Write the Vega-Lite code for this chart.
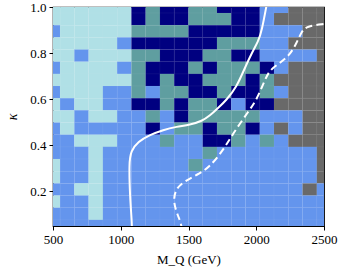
{
"$schema": "https://vega.github.io/schema/vega-lite/v6.json",
"width": 271, "height": 219,
"autosize": {"type": "none"},
"padding": {"left": 53, "top": 7, "right": 17, "bottom": 50},
"background": "white",
"config": {"view": {"stroke": "black", "strokeWidth": 1.2}},
"layer": [
{"data": {"values": [
{"m":500,"k":1,"c":"L"},{"m":605.3,"k":1,"c":"L"},{"m":710.5,"k":1,"c":"L"},{"m":815.8,"k":1,"c":"L"},{"m":921.1,"k":1,"c":"L"},{"m":1026.3,"k":1,"c":"L"},{"m":1131.6,"k":1,"c":"N"},{"m":1236.8,"k":1,"c":"T"},{"m":1342.1,"k":1,"c":"N"},{"m":1447.4,"k":1,"c":"N"},{"m":1552.6,"k":1,"c":"T"},{"m":1657.9,"k":1,"c":"T"},{"m":1763.2,"k":1,"c":"N"},{"m":1868.4,"k":1,"c":"N"},{"m":1973.7,"k":1,"c":"N"},{"m":2078.9,"k":1,"c":"B"},{"m":2184.2,"k":1,"c":"B"},{"m":2289.5,"k":1,"c":"G"},{"m":2394.7,"k":1,"c":"G"},{"m":2500,"k":1,"c":"G"},
{"m":500,"k":0.9472,"c":"L"},{"m":605.3,"k":0.9472,"c":"L"},{"m":710.5,"k":0.9472,"c":"L"},{"m":815.8,"k":0.9472,"c":"L"},{"m":921.1,"k":0.9472,"c":"L"},{"m":1026.3,"k":0.9472,"c":"L"},{"m":1131.6,"k":0.9472,"c":"N"},{"m":1236.8,"k":0.9472,"c":"T"},{"m":1342.1,"k":0.9472,"c":"N"},{"m":1447.4,"k":0.9472,"c":"N"},{"m":1552.6,"k":0.9472,"c":"T"},{"m":1657.9,"k":0.9472,"c":"T"},{"m":1763.2,"k":0.9472,"c":"T"},{"m":1868.4,"k":0.9472,"c":"N"},{"m":1973.7,"k":0.9472,"c":"N"},{"m":2078.9,"k":0.9472,"c":"B"},{"m":2184.2,"k":0.9472,"c":"G"},{"m":2289.5,"k":0.9472,"c":"G"},{"m":2394.7,"k":0.9472,"c":"G"},{"m":2500,"k":0.9472,"c":"G"},
{"m":500,"k":0.8944,"c":"B"},{"m":605.3,"k":0.8944,"c":"L"},{"m":710.5,"k":0.8944,"c":"L"},{"m":815.8,"k":0.8944,"c":"L"},{"m":921.1,"k":0.8944,"c":"L"},{"m":1026.3,"k":0.8944,"c":"L"},{"m":1131.6,"k":0.8944,"c":"T"},{"m":1236.8,"k":0.8944,"c":"T"},{"m":1342.1,"k":0.8944,"c":"T"},{"m":1447.4,"k":0.8944,"c":"T"},{"m":1552.6,"k":0.8944,"c":"N"},{"m":1657.9,"k":0.8944,"c":"N"},{"m":1763.2,"k":0.8944,"c":"N"},{"m":1868.4,"k":0.8944,"c":"N"},{"m":1973.7,"k":0.8944,"c":"N"},{"m":2078.9,"k":0.8944,"c":"B"},{"m":2184.2,"k":0.8944,"c":"B"},{"m":2289.5,"k":0.8944,"c":"B"},{"m":2394.7,"k":0.8944,"c":"G"},{"m":2500,"k":0.8944,"c":"G"},
{"m":500,"k":0.8417,"c":"L"},{"m":605.3,"k":0.8417,"c":"L"},{"m":710.5,"k":0.8417,"c":"L"},{"m":815.8,"k":0.8417,"c":"L"},{"m":921.1,"k":0.8417,"c":"L"},{"m":1026.3,"k":0.8417,"c":"B"},{"m":1131.6,"k":0.8417,"c":"N"},{"m":1236.8,"k":0.8417,"c":"N"},{"m":1342.1,"k":0.8417,"c":"N"},{"m":1447.4,"k":0.8417,"c":"N"},{"m":1552.6,"k":0.8417,"c":"N"},{"m":1657.9,"k":0.8417,"c":"N"},{"m":1763.2,"k":0.8417,"c":"T"},{"m":1868.4,"k":0.8417,"c":"T"},{"m":1973.7,"k":0.8417,"c":"T"},{"m":2078.9,"k":0.8417,"c":"B"},{"m":2184.2,"k":0.8417,"c":"B"},{"m":2289.5,"k":0.8417,"c":"G"},{"m":2394.7,"k":0.8417,"c":"G"},{"m":2500,"k":0.8417,"c":"G"},
{"m":500,"k":0.7889,"c":"L"},{"m":605.3,"k":0.7889,"c":"L"},{"m":710.5,"k":0.7889,"c":"B"},{"m":815.8,"k":0.7889,"c":"L"},{"m":921.1,"k":0.7889,"c":"L"},{"m":1026.3,"k":0.7889,"c":"L"},{"m":1131.6,"k":0.7889,"c":"T"},{"m":1236.8,"k":0.7889,"c":"T"},{"m":1342.1,"k":0.7889,"c":"N"},{"m":1447.4,"k":0.7889,"c":"N"},{"m":1552.6,"k":0.7889,"c":"N"},{"m":1657.9,"k":0.7889,"c":"T"},{"m":1763.2,"k":0.7889,"c":"T"},{"m":1868.4,"k":0.7889,"c":"N"},{"m":1973.7,"k":0.7889,"c":"N"},{"m":2078.9,"k":0.7889,"c":"B"},{"m":2184.2,"k":0.7889,"c":"B"},{"m":2289.5,"k":0.7889,"c":"B"},{"m":2394.7,"k":0.7889,"c":"B"},{"m":2500,"k":0.7889,"c":"G"},
{"m":500,"k":0.7361,"c":"B"},{"m":605.3,"k":0.7361,"c":"L"},{"m":710.5,"k":0.7361,"c":"L"},{"m":815.8,"k":0.7361,"c":"L"},{"m":921.1,"k":0.7361,"c":"L"},{"m":1026.3,"k":0.7361,"c":"B"},{"m":1131.6,"k":0.7361,"c":"T"},{"m":1236.8,"k":0.7361,"c":"N"},{"m":1342.1,"k":0.7361,"c":"N"},{"m":1447.4,"k":0.7361,"c":"N"},{"m":1552.6,"k":0.7361,"c":"T"},{"m":1657.9,"k":0.7361,"c":"N"},{"m":1763.2,"k":0.7361,"c":"T"},{"m":1868.4,"k":0.7361,"c":"T"},{"m":1973.7,"k":0.7361,"c":"T"},{"m":2078.9,"k":0.7361,"c":"N"},{"m":2184.2,"k":0.7361,"c":"B"},{"m":2289.5,"k":0.7361,"c":"G"},{"m":2394.7,"k":0.7361,"c":"G"},{"m":2500,"k":0.7361,"c":"G"},
{"m":500,"k":0.6833,"c":"L"},{"m":605.3,"k":0.6833,"c":"L"},{"m":710.5,"k":0.6833,"c":"L"},{"m":815.8,"k":0.6833,"c":"L"},{"m":921.1,"k":0.6833,"c":"L"},{"m":1026.3,"k":0.6833,"c":"L"},{"m":1131.6,"k":0.6833,"c":"T"},{"m":1236.8,"k":0.6833,"c":"N"},{"m":1342.1,"k":0.6833,"c":"T"},{"m":1447.4,"k":0.6833,"c":"N"},{"m":1552.6,"k":0.6833,"c":"N"},{"m":1657.9,"k":0.6833,"c":"T"},{"m":1763.2,"k":0.6833,"c":"T"},{"m":1868.4,"k":0.6833,"c":"T"},{"m":1973.7,"k":0.6833,"c":"N"},{"m":2078.9,"k":0.6833,"c":"T"},{"m":2184.2,"k":0.6833,"c":"G"},{"m":2289.5,"k":0.6833,"c":"G"},{"m":2394.7,"k":0.6833,"c":"G"},{"m":2500,"k":0.6833,"c":"G"},
{"m":500,"k":0.6306,"c":"B"},{"m":605.3,"k":0.6306,"c":"L"},{"m":710.5,"k":0.6306,"c":"L"},{"m":815.8,"k":0.6306,"c":"L"},{"m":921.1,"k":0.6306,"c":"B"},{"m":1026.3,"k":0.6306,"c":"B"},{"m":1131.6,"k":0.6306,"c":"T"},{"m":1236.8,"k":0.6306,"c":"B"},{"m":1342.1,"k":0.6306,"c":"T"},{"m":1447.4,"k":0.6306,"c":"T"},{"m":1552.6,"k":0.6306,"c":"N"},{"m":1657.9,"k":0.6306,"c":"N"},{"m":1763.2,"k":0.6306,"c":"T"},{"m":1868.4,"k":0.6306,"c":"N"},{"m":1973.7,"k":0.6306,"c":"N"},{"m":2078.9,"k":0.6306,"c":"T"},{"m":2184.2,"k":0.6306,"c":"B"},{"m":2289.5,"k":0.6306,"c":"G"},{"m":2394.7,"k":0.6306,"c":"G"},{"m":2500,"k":0.6306,"c":"G"},
{"m":500,"k":0.5778,"c":"L"},{"m":605.3,"k":0.5778,"c":"B"},{"m":710.5,"k":0.5778,"c":"L"},{"m":815.8,"k":0.5778,"c":"L"},{"m":921.1,"k":0.5778,"c":"B"},{"m":1026.3,"k":0.5778,"c":"B"},{"m":1131.6,"k":0.5778,"c":"N"},{"m":1236.8,"k":0.5778,"c":"N"},{"m":1342.1,"k":0.5778,"c":"T"},{"m":1447.4,"k":0.5778,"c":"N"},{"m":1552.6,"k":0.5778,"c":"T"},{"m":1657.9,"k":0.5778,"c":"T"},{"m":1763.2,"k":0.5778,"c":"N"},{"m":1868.4,"k":0.5778,"c":"B"},{"m":1973.7,"k":0.5778,"c":"N"},{"m":2078.9,"k":0.5778,"c":"N"},{"m":2184.2,"k":0.5778,"c":"G"},{"m":2289.5,"k":0.5778,"c":"G"},{"m":2394.7,"k":0.5778,"c":"G"},{"m":2500,"k":0.5778,"c":"G"},
{"m":500,"k":0.525,"c":"L"},{"m":605.3,"k":0.525,"c":"L"},{"m":710.5,"k":0.525,"c":"B"},{"m":815.8,"k":0.525,"c":"L"},{"m":921.1,"k":0.525,"c":"L"},{"m":1026.3,"k":0.525,"c":"B"},{"m":1131.6,"k":0.525,"c":"B"},{"m":1236.8,"k":0.525,"c":"T"},{"m":1342.1,"k":0.525,"c":"B"},{"m":1447.4,"k":0.525,"c":"N"},{"m":1552.6,"k":0.525,"c":"T"},{"m":1657.9,"k":0.525,"c":"T"},{"m":1763.2,"k":0.525,"c":"T"},{"m":1868.4,"k":0.525,"c":"T"},{"m":1973.7,"k":0.525,"c":"T"},{"m":2078.9,"k":0.525,"c":"B"},{"m":2184.2,"k":0.525,"c":"B"},{"m":2289.5,"k":0.525,"c":"B"},{"m":2394.7,"k":0.525,"c":"G"},{"m":2500,"k":0.525,"c":"G"},
{"m":500,"k":0.4722,"c":"B"},{"m":605.3,"k":0.4722,"c":"L"},{"m":710.5,"k":0.4722,"c":"B"},{"m":815.8,"k":0.4722,"c":"B"},{"m":921.1,"k":0.4722,"c":"B"},{"m":1026.3,"k":0.4722,"c":"B"},{"m":1131.6,"k":0.4722,"c":"B"},{"m":1236.8,"k":0.4722,"c":"N"},{"m":1342.1,"k":0.4722,"c":"B"},{"m":1447.4,"k":0.4722,"c":"T"},{"m":1552.6,"k":0.4722,"c":"T"},{"m":1657.9,"k":0.4722,"c":"N"},{"m":1763.2,"k":0.4722,"c":"T"},{"m":1868.4,"k":0.4722,"c":"T"},{"m":1973.7,"k":0.4722,"c":"N"},{"m":2078.9,"k":0.4722,"c":"B"},{"m":2184.2,"k":0.4722,"c":"G"},{"m":2289.5,"k":0.4722,"c":"B"},{"m":2394.7,"k":0.4722,"c":"G"},{"m":2500,"k":0.4722,"c":"G"},
{"m":500,"k":0.4194,"c":"B"},{"m":605.3,"k":0.4194,"c":"B"},{"m":710.5,"k":0.4194,"c":"L"},{"m":815.8,"k":0.4194,"c":"L"},{"m":921.1,"k":0.4194,"c":"L"},{"m":1026.3,"k":0.4194,"c":"B"},{"m":1131.6,"k":0.4194,"c":"B"},{"m":1236.8,"k":0.4194,"c":"B"},{"m":1342.1,"k":0.4194,"c":"T"},{"m":1447.4,"k":0.4194,"c":"B"},{"m":1552.6,"k":0.4194,"c":"B"},{"m":1657.9,"k":0.4194,"c":"N"},{"m":1763.2,"k":0.4194,"c":"N"},{"m":1868.4,"k":0.4194,"c":"T"},{"m":1973.7,"k":0.4194,"c":"B"},{"m":2078.9,"k":0.4194,"c":"T"},{"m":2184.2,"k":0.4194,"c":"B"},{"m":2289.5,"k":0.4194,"c":"G"},{"m":2394.7,"k":0.4194,"c":"G"},{"m":2500,"k":0.4194,"c":"G"},
{"m":500,"k":0.3667,"c":"B"},{"m":605.3,"k":0.3667,"c":"B"},{"m":710.5,"k":0.3667,"c":"B"},{"m":815.8,"k":0.3667,"c":"L"},{"m":921.1,"k":0.3667,"c":"B"},{"m":1026.3,"k":0.3667,"c":"B"},{"m":1131.6,"k":0.3667,"c":"B"},{"m":1236.8,"k":0.3667,"c":"B"},{"m":1342.1,"k":0.3667,"c":"B"},{"m":1447.4,"k":0.3667,"c":"B"},{"m":1552.6,"k":0.3667,"c":"B"},{"m":1657.9,"k":0.3667,"c":"T"},{"m":1763.2,"k":0.3667,"c":"B"},{"m":1868.4,"k":0.3667,"c":"B"},{"m":1973.7,"k":0.3667,"c":"B"},{"m":2078.9,"k":0.3667,"c":"B"},{"m":2184.2,"k":0.3667,"c":"B"},{"m":2289.5,"k":0.3667,"c":"B"},{"m":2394.7,"k":0.3667,"c":"B"},{"m":2500,"k":0.3667,"c":"G"},
{"m":500,"k":0.3139,"c":"L"},{"m":605.3,"k":0.3139,"c":"B"},{"m":710.5,"k":0.3139,"c":"B"},{"m":815.8,"k":0.3139,"c":"L"},{"m":921.1,"k":0.3139,"c":"B"},{"m":1026.3,"k":0.3139,"c":"B"},{"m":1131.6,"k":0.3139,"c":"B"},{"m":1236.8,"k":0.3139,"c":"B"},{"m":1342.1,"k":0.3139,"c":"B"},{"m":1447.4,"k":0.3139,"c":"B"},{"m":1552.6,"k":0.3139,"c":"T"},{"m":1657.9,"k":0.3139,"c":"B"},{"m":1763.2,"k":0.3139,"c":"B"},{"m":1868.4,"k":0.3139,"c":"B"},{"m":1973.7,"k":0.3139,"c":"B"},{"m":2078.9,"k":0.3139,"c":"B"},{"m":2184.2,"k":0.3139,"c":"B"},{"m":2289.5,"k":0.3139,"c":"B"},{"m":2394.7,"k":0.3139,"c":"B"},{"m":2500,"k":0.3139,"c":"G"},
{"m":500,"k":0.2611,"c":"L"},{"m":605.3,"k":0.2611,"c":"B"},{"m":710.5,"k":0.2611,"c":"B"},{"m":815.8,"k":0.2611,"c":"L"},{"m":921.1,"k":0.2611,"c":"B"},{"m":1026.3,"k":0.2611,"c":"B"},{"m":1131.6,"k":0.2611,"c":"B"},{"m":1236.8,"k":0.2611,"c":"B"},{"m":1342.1,"k":0.2611,"c":"B"},{"m":1447.4,"k":0.2611,"c":"B"},{"m":1552.6,"k":0.2611,"c":"B"},{"m":1657.9,"k":0.2611,"c":"B"},{"m":1763.2,"k":0.2611,"c":"B"},{"m":1868.4,"k":0.2611,"c":"B"},{"m":1973.7,"k":0.2611,"c":"B"},{"m":2078.9,"k":0.2611,"c":"B"},{"m":2184.2,"k":0.2611,"c":"B"},{"m":2289.5,"k":0.2611,"c":"B"},{"m":2394.7,"k":0.2611,"c":"B"},{"m":2500,"k":0.2611,"c":"G"},
{"m":500,"k":0.2083,"c":"B"},{"m":605.3,"k":0.2083,"c":"B"},{"m":710.5,"k":0.2083,"c":"L"},{"m":815.8,"k":0.2083,"c":"L"},{"m":921.1,"k":0.2083,"c":"B"},{"m":1026.3,"k":0.2083,"c":"B"},{"m":1131.6,"k":0.2083,"c":"B"},{"m":1236.8,"k":0.2083,"c":"B"},{"m":1342.1,"k":0.2083,"c":"B"},{"m":1447.4,"k":0.2083,"c":"B"},{"m":1552.6,"k":0.2083,"c":"B"},{"m":1657.9,"k":0.2083,"c":"B"},{"m":1763.2,"k":0.2083,"c":"B"},{"m":1868.4,"k":0.2083,"c":"B"},{"m":1973.7,"k":0.2083,"c":"B"},{"m":2078.9,"k":0.2083,"c":"B"},{"m":2184.2,"k":0.2083,"c":"B"},{"m":2289.5,"k":0.2083,"c":"B"},{"m":2394.7,"k":0.2083,"c":"G"},{"m":2500,"k":0.2083,"c":"B"},
{"m":500,"k":0.1556,"c":"L"},{"m":605.3,"k":0.1556,"c":"B"},{"m":710.5,"k":0.1556,"c":"B"},{"m":815.8,"k":0.1556,"c":"L"},{"m":921.1,"k":0.1556,"c":"B"},{"m":1026.3,"k":0.1556,"c":"B"},{"m":1131.6,"k":0.1556,"c":"B"},{"m":1236.8,"k":0.1556,"c":"B"},{"m":1342.1,"k":0.1556,"c":"B"},{"m":1447.4,"k":0.1556,"c":"B"},{"m":1552.6,"k":0.1556,"c":"B"},{"m":1657.9,"k":0.1556,"c":"B"},{"m":1763.2,"k":0.1556,"c":"B"},{"m":1868.4,"k":0.1556,"c":"B"},{"m":1973.7,"k":0.1556,"c":"B"},{"m":2078.9,"k":0.1556,"c":"B"},{"m":2184.2,"k":0.1556,"c":"B"},{"m":2289.5,"k":0.1556,"c":"B"},{"m":2394.7,"k":0.1556,"c":"B"},{"m":2500,"k":0.1556,"c":"B"},
{"m":500,"k":0.1028,"c":"B"},{"m":605.3,"k":0.1028,"c":"B"},{"m":710.5,"k":0.1028,"c":"B"},{"m":815.8,"k":0.1028,"c":"L"},{"m":921.1,"k":0.1028,"c":"B"},{"m":1026.3,"k":0.1028,"c":"B"},{"m":1131.6,"k":0.1028,"c":"B"},{"m":1236.8,"k":0.1028,"c":"B"},{"m":1342.1,"k":0.1028,"c":"B"},{"m":1447.4,"k":0.1028,"c":"B"},{"m":1552.6,"k":0.1028,"c":"B"},{"m":1657.9,"k":0.1028,"c":"B"},{"m":1763.2,"k":0.1028,"c":"B"},{"m":1868.4,"k":0.1028,"c":"B"},{"m":1973.7,"k":0.1028,"c":"B"},{"m":2078.9,"k":0.1028,"c":"B"},{"m":2184.2,"k":0.1028,"c":"B"},{"m":2289.5,"k":0.1028,"c":"B"},{"m":2394.7,"k":0.1028,"c":"B"},{"m":2500,"k":0.1028,"c":"B"},
{"m":500,"k":0.05,"c":"B"},{"m":605.3,"k":0.05,"c":"B"},{"m":710.5,"k":0.05,"c":"B"},{"m":815.8,"k":0.05,"c":"B"},{"m":921.1,"k":0.05,"c":"B"},{"m":1026.3,"k":0.05,"c":"B"},{"m":1131.6,"k":0.05,"c":"B"},{"m":1236.8,"k":0.05,"c":"B"},{"m":1342.1,"k":0.05,"c":"B"},{"m":1447.4,"k":0.05,"c":"B"},{"m":1552.6,"k":0.05,"c":"B"},{"m":1657.9,"k":0.05,"c":"B"},{"m":1763.2,"k":0.05,"c":"B"},{"m":1868.4,"k":0.05,"c":"B"},{"m":1973.7,"k":0.05,"c":"B"},{"m":2078.9,"k":0.05,"c":"B"},{"m":2184.2,"k":0.05,"c":"B"},{"m":2289.5,"k":0.05,"c":"B"},{"m":2394.7,"k":0.05,"c":"B"},{"m":2500,"k":0.05,"c":"B"}
]},
"mark": {"type": "rect", "width": 14.4, "height": 12.3, "clip": true, "stroke": "white", "strokeWidth": 0.4, "strokeOpacity": 0.1},
"encoding": {
 "x": {"field": "m", "type": "quantitative", "scale": {"domain": [500, 2500], "nice": false, "zero": false},
  "axis": {"values": [500, 1000, 1500, 2000, 2500], "format": "d", "grid": false, "title": "M_Q (GeV)", "labelFont": "Liberation Serif", "labelFontSize": 13, "labelColor": "black", "labelFlush": false, "labelOverlap": false, "tickColor": "black", "tickSize": 4, "domainColor": "black", "titleFont": "Liberation Serif", "titleFontSize": 13, "titleFontWeight": "normal", "titleColor": "black", "titlePadding": 7, "labelPadding": 3}},
 "y": {"field": "k", "type": "quantitative", "scale": {"domain": [0.05, 1.0], "nice": false, "zero": false},
  "axis": {"values": [0.2, 0.4, 0.6, 0.8, 1.0], "format": ".1f", "grid": false, "title": "κ", "labelFont": "Liberation Serif", "labelFontSize": 13, "labelColor": "black", "labelFlush": false, "labelOverlap": false, "tickColor": "black", "tickSize": 4, "domainColor": "black", "titleFont": "Liberation Serif", "titleFontSize": 14, "titleFontStyle": "italic", "titleFontWeight": "normal", "titleColor": "black", "titlePadding": 10, "labelPadding": 3}},
 "color": {"field": "c", "type": "nominal", "scale": {"domain": ["L", "B", "T", "N", "G"], "range": ["#b0e0e6", "#6495ed", "#5f9ea0", "#000080", "#696969"]}, "legend": null}
}},
{"data": {"values": [
{"o":1,"m":1083,"k":0.03},{"o":2,"m":1081,"k":0.076},{"o":3,"m":1068,"k":0.177},{"o":4,"m":1061,"k":0.324},{"o":5,"m":1075,"k":0.375},{"o":6,"m":1127,"k":0.416},{"o":7,"m":1216,"k":0.445},{"o":8,"m":1312,"k":0.467},{"o":9,"m":1413,"k":0.481},{"o":10,"m":1511,"k":0.489},{"o":11,"m":1600,"k":0.505},{"o":12,"m":1660,"k":0.53},{"o":13,"m":1708,"k":0.556},{"o":14,"m":1782,"k":0.597},{"o":15,"m":1856,"k":0.655},{"o":16,"m":1904,"k":0.72},{"o":17,"m":1966,"k":0.8},{"o":18,"m":2015,"k":0.851},{"o":19,"m":2040,"k":0.894},{"o":20,"m":2080,"k":1.02}
]},
"mark": {"type": "line", "color": "white", "strokeWidth": 2, "clip": true, "interpolate": "basis"},
"encoding": {"x": {"field": "m", "type": "quantitative"}, "y": {"field": "k", "type": "quantitative"}, "order": {"field": "o"}}},
{"data": {"values": [
{"o":1,"m":1455,"k":0.03},{"o":2,"m":1440,"k":0.07},{"o":3,"m":1425,"k":0.09},{"o":4,"m":1388,"k":0.15},{"o":5,"m":1400,"k":0.206},{"o":6,"m":1462,"k":0.242},{"o":7,"m":1585,"k":0.279},{"o":8,"m":1659,"k":0.308},{"o":9,"m":1757,"k":0.38},{"o":10,"m":1831,"k":0.453},{"o":11,"m":1941,"k":0.546},{"o":12,"m":2003,"k":0.597},{"o":13,"m":2064,"k":0.684},{"o":14,"m":2101,"k":0.728},{"o":15,"m":2175,"k":0.757},{"o":16,"m":2249,"k":0.793},{"o":17,"m":2298,"k":0.844},{"o":18,"m":2335,"k":0.894},{"o":19,"m":2372,"k":0.916},{"o":20,"m":2495,"k":0.927},{"o":21,"m":2530,"k":0.928}
]},
"mark": {"type": "line", "color": "white", "strokeWidth": 2, "strokeDash": [7, 4], "clip": true, "interpolate": "basis"},
"encoding": {"x": {"field": "m", "type": "quantitative"}, "y": {"field": "k", "type": "quantitative"}, "order": {"field": "o"}}}
]
}
